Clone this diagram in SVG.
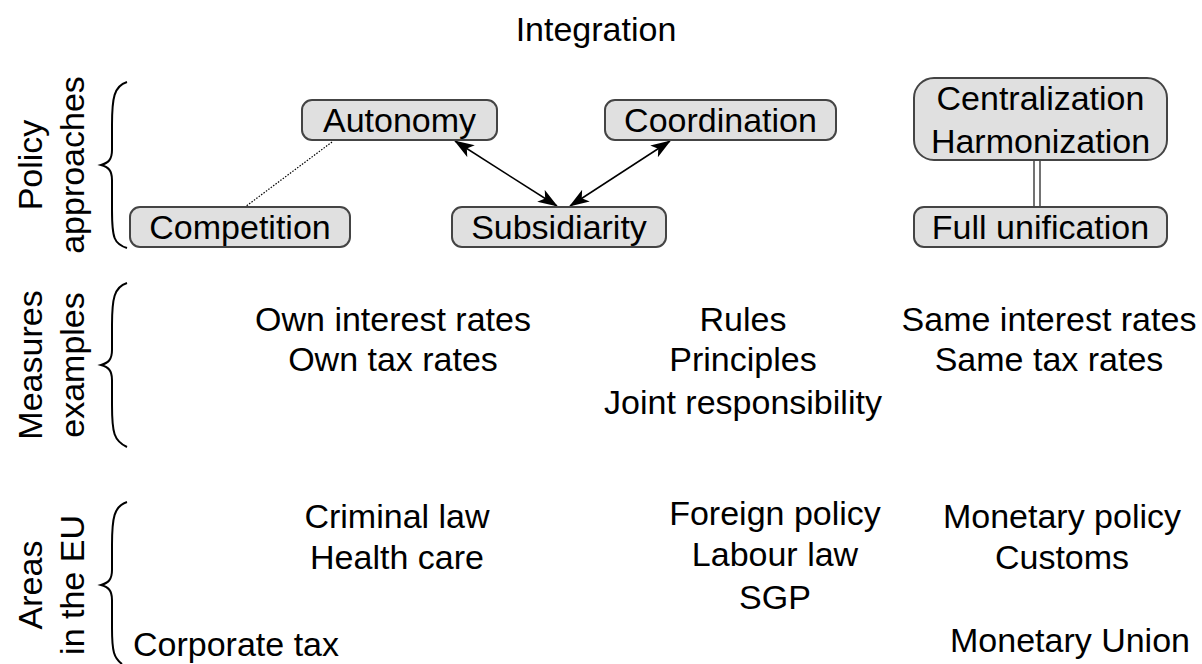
<svg xmlns="http://www.w3.org/2000/svg" width="1202" height="664" viewBox="0 0 1202 664">
<style>
text{font-family:"Liberation Sans",Arial,sans-serif;font-size:34px;fill:#000}
.c{text-anchor:middle}
.box{fill:#e0e0e0;stroke:#444;stroke-width:2}
.brace{fill:none;stroke:#000;stroke-width:2}
.conn{fill:none;stroke:#000;stroke-width:1.5}
</style>
<defs>
<marker id="ah" viewBox="0 0 20 14" refX="19" refY="7" markerWidth="20" markerHeight="14" markerUnits="userSpaceOnUse" orient="auto-start-reverse">
<path d="M0,0 L20,7 L0,14 L5,7 Z" fill="#000"/>
</marker>
</defs>
<rect width="1202" height="664" fill="#fff"/>
<text class="c" x="596" y="41">Integration</text>

<g id="labels">
<text class="c" transform="translate(42,165) rotate(-90)">Policy</text>
<text class="c" transform="translate(84,165) rotate(-90)">approaches</text>
<text class="c" transform="translate(42,365) rotate(-90)">Measures</text>
<text class="c" transform="translate(84,365) rotate(-90)">examples</text>
<text class="c" transform="translate(42,585) rotate(-90)">Areas</text>
<text class="c" transform="translate(84,585) rotate(-90)">in the EU</text>
</g>
<g id="braces">
<path class="brace" d="M127,82 C114,86 112,98 112,125 L112,150 C112,160 108,163 101,165 C108,167 112,170 112,180 L112,210 C112,238 114,244 127,248"/>
<path class="brace" d="M127,283 C114,287 112,299 112,325 L112,350 C112,360 108,363 101,365 C108,367 112,370 112,380 L112,405 C112,433 114,441 127,447"/>
<path class="brace" d="M127,502 C114,506 112,518 112,545 L112,570 C112,580 108,583 101,585 C108,587 112,590 112,600 L112,628 C112,652 114,658 122,664"/>
</g>

<g id="connectors">
<line class="conn" x1="455" y1="141" x2="557" y2="206" marker-start="url(#ah)" marker-end="url(#ah)"/>
<line class="conn" x1="670" y1="141" x2="570" y2="206" marker-start="url(#ah)" marker-end="url(#ah)"/>
<line x1="332" y1="142" x2="245" y2="207" stroke="#000" stroke-width="1.2" stroke-dasharray="1.5,1.5"/>
<line x1="1034" y1="160" x2="1034" y2="207" stroke="#444" stroke-width="1.5"/>
<line x1="1040" y1="160" x2="1040" y2="207" stroke="#444" stroke-width="1.5"/>
</g>

<g id="autonomy"><rect class="box" x="302" y="100" width="195" height="40" rx="10"/><text class="c" x="399.5" y="132">Autonomy</text></g>
<g id="coordination"><rect class="box" x="605" y="100" width="231" height="40" rx="10"/><text class="c" x="720.5" y="132">Coordination</text></g>
<g id="competition"><rect class="box" x="130" y="207" width="220" height="40" rx="10"/><text class="c" x="240" y="239">Competition</text></g>
<g id="subsidiarity"><rect class="box" x="452" y="207" width="214" height="40" rx="10"/><text class="c" x="559" y="239">Subsidiarity</text></g>
<g id="centralization"><rect class="box" x="914" y="78" width="253" height="82" rx="20"/><text class="c" x="1040.5" y="110">Centralization</text><text class="c" x="1040.5" y="153">Harmonization</text></g>
<g id="unification"><rect class="box" x="914" y="207" width="253" height="40" rx="10"/><text class="c" x="1040.5" y="239">Full unification</text></g>

<g id="measures">
<text class="c" x="393" y="331">Own interest rates</text>
<text class="c" x="393" y="371">Own tax rates</text>
<text class="c" x="743" y="331">Rules</text>
<text class="c" x="743" y="371">Principles</text>
<text class="c" x="743" y="414">Joint responsibility</text>
<text class="c" x="1049" y="331">Same interest rates</text>
<text class="c" x="1049" y="371">Same tax rates</text>
</g>
<g id="areas">
<text class="c" x="397" y="528">Criminal law</text>
<text class="c" x="397" y="569">Health care</text>
<text class="c" x="775" y="525">Foreign policy</text>
<text class="c" x="775" y="566">Labour law</text>
<text class="c" x="775" y="609">SGP</text>
<text class="c" x="1062" y="528">Monetary policy</text>
<text class="c" x="1062" y="569">Customs</text>
<text x="133" y="656">Corporate tax</text>
<text class="c" x="1070" y="652">Monetary Union</text>
</g>
</svg>
